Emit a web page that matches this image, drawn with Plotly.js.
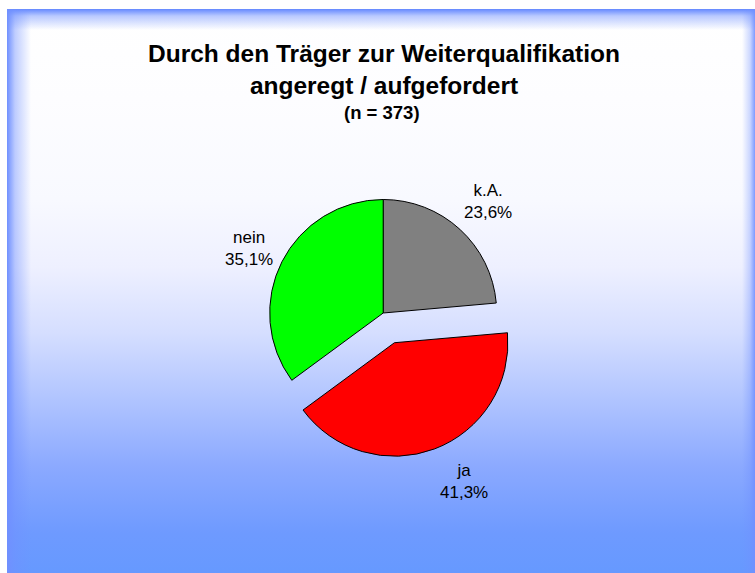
<!DOCTYPE html>
<html>
<head>
<meta charset="utf-8">
<script src="https://cdn.plot.ly/plotly-3.0.1.min.js"></script>
<style>
  html, body { margin: 0; padding: 0; background: #ffffff; width: 755px; height: 573px; overflow: hidden; }
  #bg {
    position: absolute; left: 7px; top: 9px; width: 748px; height: 564px;
    background:
      linear-gradient(to right, rgba(112,144,255,1) 0px, rgba(112,144,255,0.45) 8px, rgba(112,144,255,0) 24px),
      linear-gradient(to left, rgba(112,144,255,0.9) 0px, rgba(112,144,255,0.35) 5px, rgba(112,144,255,0) 13px),
      linear-gradient(to bottom, rgba(100,136,255,1) 0px, rgba(100,136,255,0.45) 7px, rgba(100,136,255,0) 21px),
      linear-gradient(to bottom, #ffffff 0px, #fdfdff 90px, #f8f9ff 191px, #eef0ff 258px, #d5deff 324px, #b0c4ff 391px, #8ba9ff 458px, #6e9aff 524px, #6699ff 564px);
  }
  #chart { position: absolute; left: 0; top: 0; width: 755px; height: 573px; }
</style>
</head>
<body>
<div id="bg"></div>
<div id="chart"></div>
<script>
// ---- data ----
var categories = ['k.A.', 'ja', 'nein'];
var shares = [23.6, 41.3, 35.1];
var sliceColors = ['#808080', '#FF0000', '#00FF00'];
var pulls = [0, 0.28, 0];
var sampleSize = 373;

// ---- label placement (pixel centres of the text blocks) ----
var labelPos = [[488, 201], [464, 481], [249, 248.5]];

var W = 755, H = 573;

function fmt(v) { return v.toFixed(1).replace('.', ',') + '%'; }

var annotations = categories.map(function (c, i) {
  return {
    text: c + '<br>' + fmt(shares[i]),
    xref: 'paper', yref: 'paper',
    x: labelPos[i][0] / W, y: 1 - labelPos[i][1] / H,
    xanchor: 'center', yanchor: 'middle', align: 'center',
    showarrow: false,
    font: { family: 'Arial, "Liberation Sans", sans-serif', size: 17, color: '#000000' }
  };
});

annotations.push({
  text: '<b>(n = ' + sampleSize + ')</b>',
  xref: 'paper', yref: 'paper',
  x: 382 / W, y: 1 - 112 / H,
  xanchor: 'center', yanchor: 'middle', showarrow: false,
  font: { family: 'Arial, "Liberation Sans", sans-serif', size: 18.5, color: '#000000' }
});

var trace = {
  type: 'pie',
  labels: categories,
  values: shares,
  sort: false,
  direction: 'clockwise',
  rotation: 0,
  pull: pulls,
  textinfo: 'none',
  hoverinfo: 'label+percent',
  marker: { colors: sliceColors, line: { color: '#000000', width: 1 } },
  domain: { x: [0.3135, 0.7016], y: [0.2002, 0.7073] }
};

var layout = {
  width: W, height: H,
  margin: { l: 0, r: 0, t: 0, b: 0 },
  paper_bgcolor: 'rgba(0,0,0,0)',
  plot_bgcolor: 'rgba(0,0,0,0)',
  showlegend: false,
  title: {
    text: '<b>Durch den Träger zur Weiterqualifikation<br>angeregt / aufgefordert</b>',
    font: { family: 'Arial, "Liberation Sans", sans-serif', size: 24.5, color: '#000000' },
    x: 384 / W, xanchor: 'center',
    y: 1 - 62 / H, yanchor: 'top'
  },
  annotations: annotations
};

Plotly.newPlot('chart', [trace], layout, { displayModeBar: false, staticPlot: true });
</script>
</body>
</html>
